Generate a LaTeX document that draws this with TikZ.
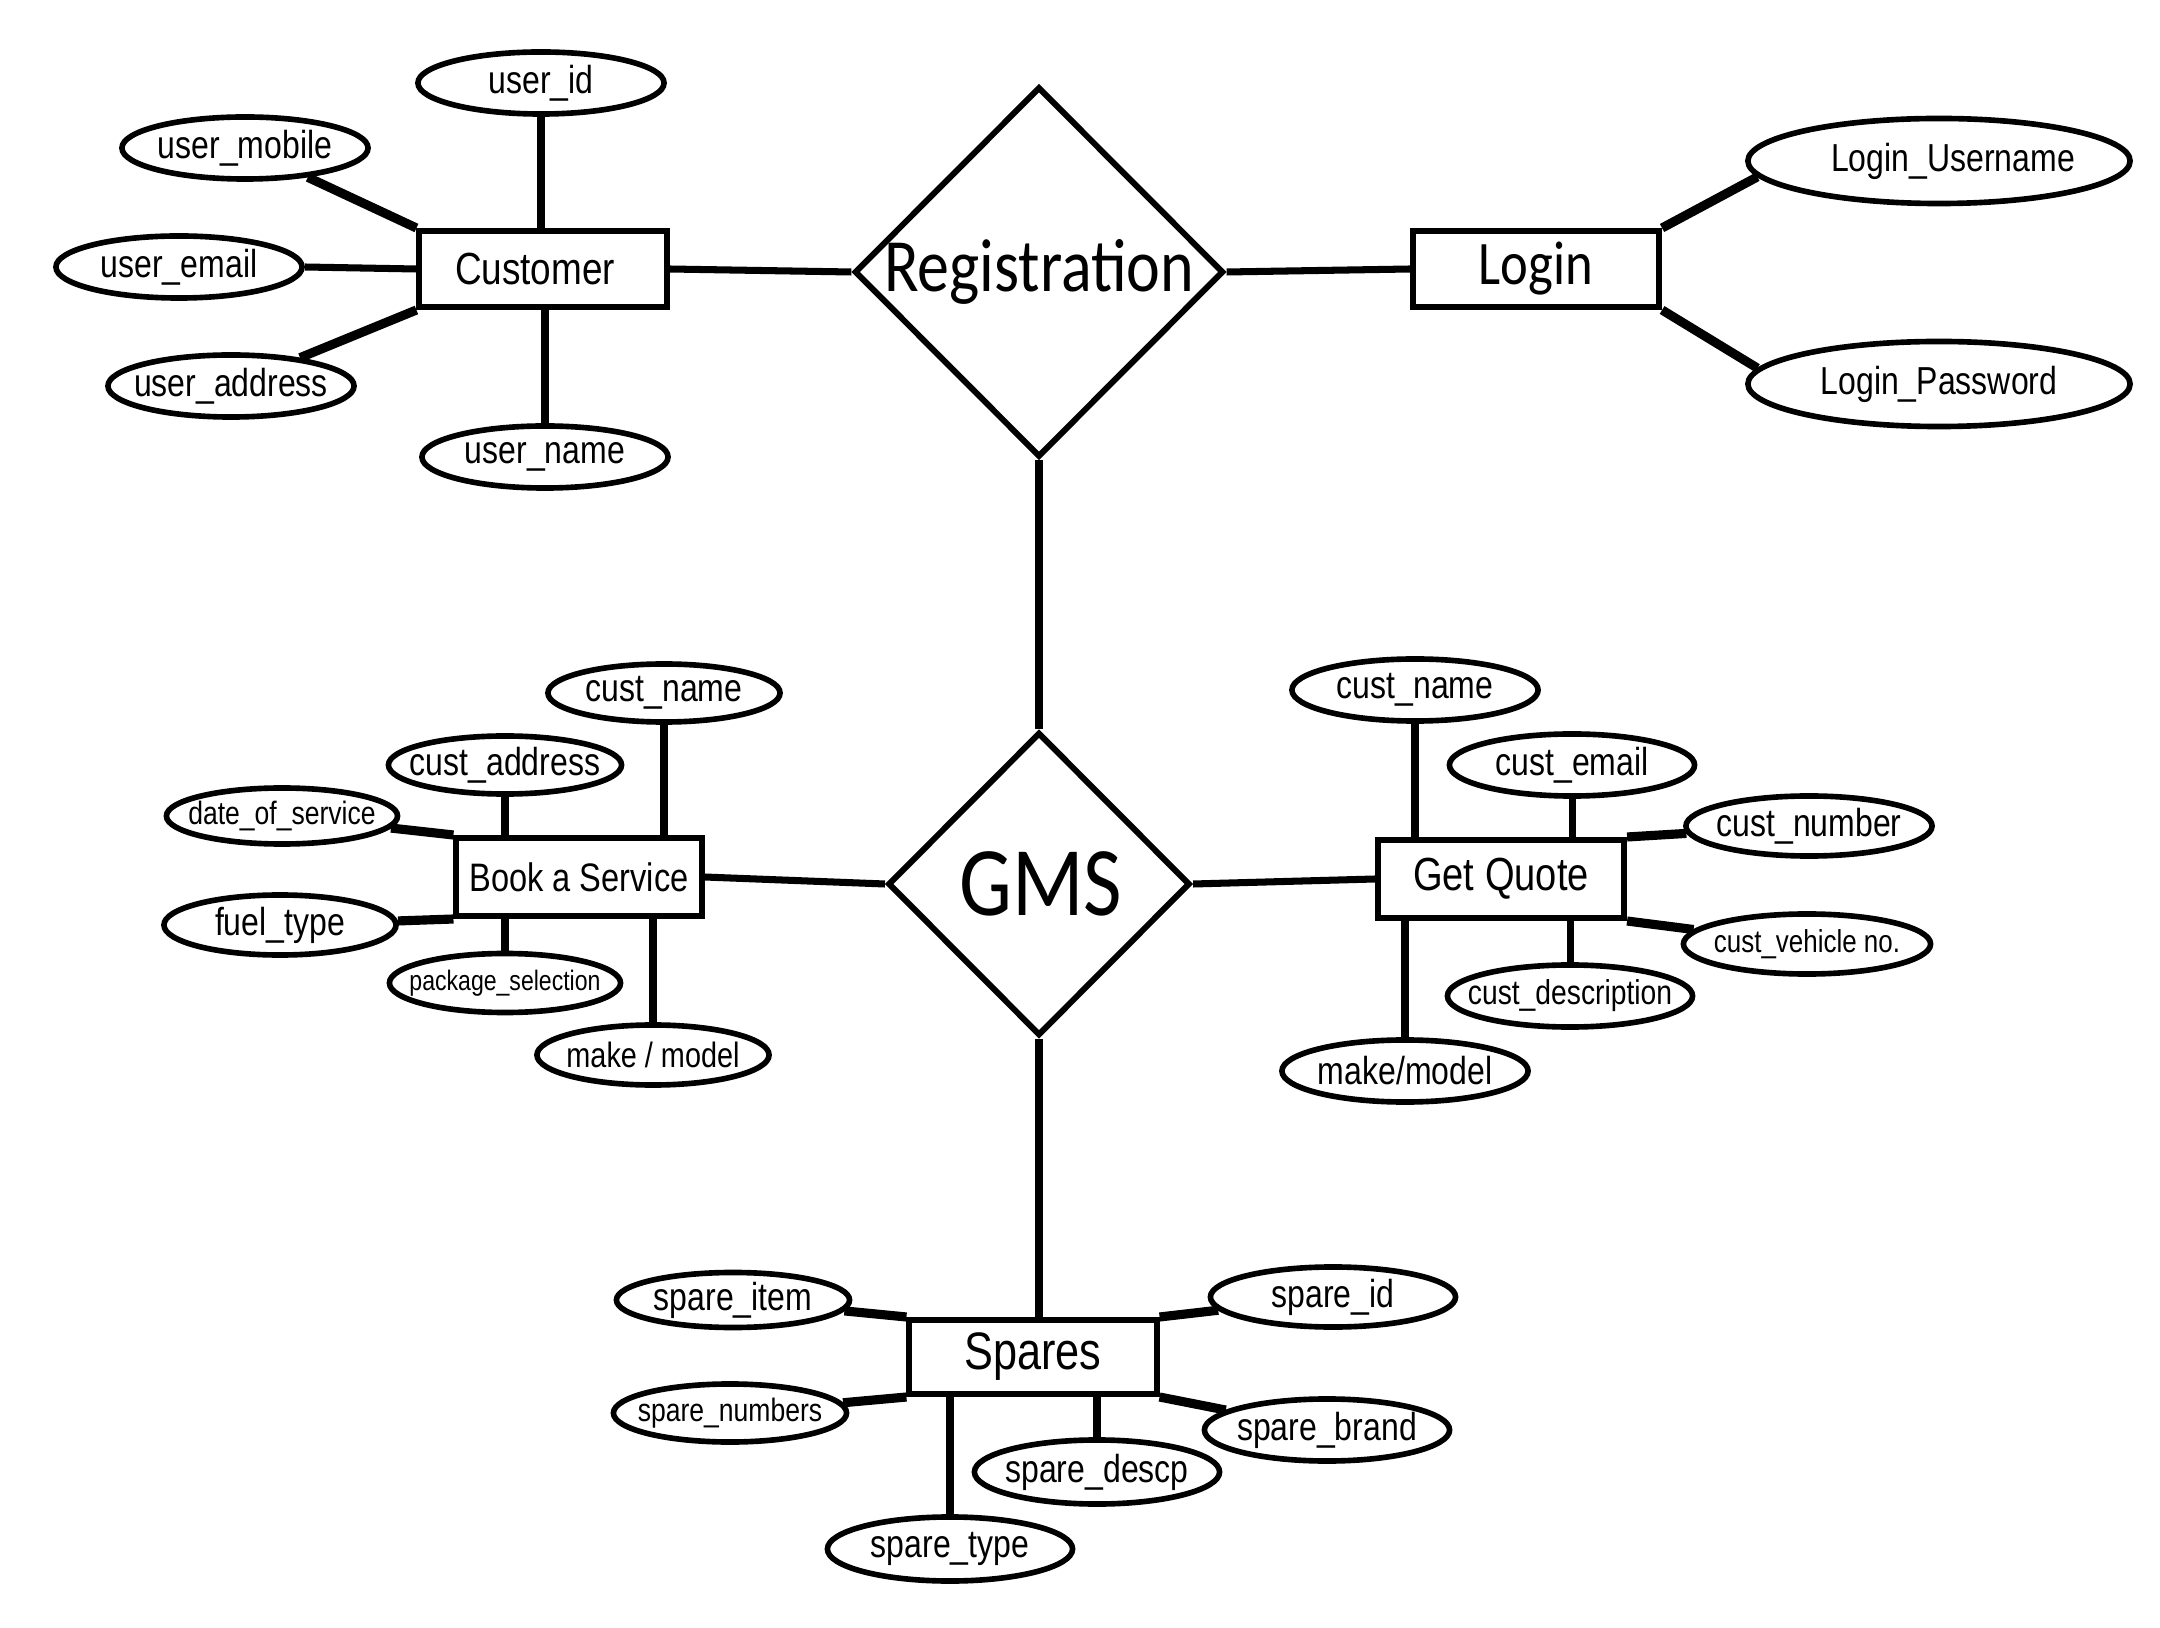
\documentclass[tikz,border=0pt]{standalone}
\usepackage{fontspec}
\usetikzlibrary{shapes.geometric}
\newfontfamily\attrfont{Liberation Sans}[FakeStretch=0.82]
\newfontfamily\calfont{Carlito}[FakeStretch=0.85]
\newcommand{\fsz}[1]{\fontsize{#1}{#1}\selectfont}
\newcommand{\zw}[1]{\makebox[0pt]{#1}}
\tikzset{
  attr/.style={ellipse, draw, line width=1.6pt, inner sep=0pt,
    minimum width=2.46cm, minimum height=0.62cm, font=\attrfont\fsz{11.1pt}},
  entity/.style={rectangle, draw, line width=1.7pt, inner sep=0pt,
    minimum width=2.47cm, minimum height=0.76cm, font=\attrfont\fsz{12.8pt}},
  rel/.style={diamond, draw, line width=1.7pt, inner sep=0pt},
  reltext/.style={inner sep=0pt, font=\calfont},
  link/.style={line width=2pt},
  dlink/.style={line width=2.6pt}
}
\begin{document}
\begin{tikzpicture}[x=0.01cm, y=-0.01cm]
\fill[white] (0,0) rectangle (2160,1628);
\useasboundingbox (0,0) rectangle (2160,1628);

% Relationships
\node[rel, minimum width=3.69cm, minimum height=3.70cm] (reg) at (1039,272) {};
\node[reltext, font=\calfont\fsz{21.4pt}] (regtxt) at (1039,272) {Registration};
\node[rel, minimum width=3.02cm, minimum height=3.03cm] (gms) at (1039,884) {};
\node[reltext, font=\calfont\fsz{28pt}] (gmstxt) at (1041,884) {GMS};

% Customer
\node[entity] (cust) at (543,269) {\zw{\hspace{-0.16cm}Customer}};
\node[attr] (uid) at (541,83) {\zw{user\_id}};
\node[attr] (umob) at (245,148) {\zw{user\_mobile}};
\node[attr] (uemail) at (179,267) {\zw{user\_email}};
\node[attr] (uaddr) at (231,386) {\zw{user\_address}};
\node[attr] (uname) at (545,457) {\zw{user\_name}};

% Login
\node[entity, minimum width=2.46cm, font=\calfont\fsz{17.6pt}] (login) at (1536,269) {Login};
\node[attr, minimum width=3.82cm, minimum height=0.85cm] (lu) at (1939,161) {\zw{\hspace{0.28cm}Login\_Username}};
\node[attr, minimum width=3.82cm, minimum height=0.85cm] (lp) at (1939,384) {\zw{Login\_Password}};

% Book a Service
\node[entity, minimum width=2.45cm, minimum height=0.78cm, font=\attrfont\fsz{11.3pt}] (book) at (579,877) {Book a Service};
\node[attr, minimum width=2.32cm, minimum height=0.58cm] (bname) at (664,693) {\zw{cust\_name}};
\node[attr, minimum width=2.33cm, minimum height=0.58cm] (baddr) at (505,765) {\zw{cust\_address}};
\node[attr, minimum width=2.31cm, minimum height=0.56cm, font=\attrfont\fsz{9.2pt}] (bdate) at (282,816) {\zw{date\_of\_service}};
\node[attr, minimum width=2.32cm, minimum height=0.60cm] (bfuel) at (280,925) {\zw{fuel\_type}};
\node[attr, minimum width=2.31cm, minimum height=0.59cm, font=\attrfont\fsz{8pt}] (bpack) at (505,983) {\zw{package\_selection}};
\node[attr, minimum width=2.32cm, minimum height=0.60cm, font=\attrfont\fsz{10pt}] (bmake) at (653,1055) {\zw{make / model}};

% Get Quote
\node[entity, minimum width=2.46cm, minimum height=0.78cm, font=\attrfont\fsz{13.2pt}] (gq) at (1501,879) {Get Quote};
\node[attr] (qname) at (1415,690) {\zw{cust\_name}};
\node[attr, minimum width=2.45cm] (qemail) at (1572,765) {\zw{cust\_email}};
\node[attr, minimum height=0.60cm] (qnum) at (1809,826) {\zw{cust\_number}};
\node[attr, minimum width=2.47cm, minimum height=0.60cm, font=\attrfont\fsz{9pt}] (qveh) at (1807,944) {\zw{cust\_vehicle no.}};
\node[attr, minimum width=2.45cm, font=\attrfont\fsz{9.8pt}] (qdesc) at (1570,996) {\zw{cust\_description}};
\node[attr] (qmake) at (1405,1071) {\zw{make/model}};

% Spares
\node[entity, minimum width=2.47cm, minimum height=0.74cm, font=\attrfont\fsz{15pt}] (spares) at (1033,1357) {Spares};
\node[attr, minimum width=2.33cm, minimum height=0.55cm] (si) at (733,1300) {\zw{spare\_item}};
\node[attr, minimum width=2.45cm, minimum height=0.60cm] (sid) at (1333,1297) {\zw{spare\_id}};
\node[attr, minimum width=2.33cm, minimum height=0.58cm, font=\attrfont\fsz{9.2pt}] (sn) at (730,1413) {\zw{spare\_numbers}};
\node[attr, minimum width=2.45cm, minimum height=0.62cm] (sb) at (1327,1430) {\zw{spare\_brand}};
\node[attr, minimum width=2.45cm, minimum height=0.64cm] (sd) at (1097,1472) {\zw{spare\_descp}};
\node[attr, minimum width=2.45cm, minimum height=0.64cm] (st) at (950,1549) {\zw{spare\_type}};

% Main connectors
\draw[link] (cust.east) -- (reg.west);
\draw[link] (reg.east) -- (login.west);
\draw[link] (reg.south) -- (gms.north);
\draw[link] (book.east) -- (gms.west);
\draw[link] (gms.east) -- (gq.west);
\draw[link] (gms.south) -- (gms.south |- spares.north);

% Customer attributes
\draw[link] (uid.south) -- (uid.south |- cust.north);
\draw[dlink] (umob) -- (cust.north west);
\draw[link] (uemail.east) -- (cust.west);
\draw[dlink] (uaddr) -- (cust.south west);
\draw[link] (uname.north) -- (uname.north |- cust.south);

% Login attributes
\draw[dlink] (login.north east) -- (lu.185);
\draw[dlink] (login.south east) -- (lp.175);

% Book a Service attributes
\draw[link] (bname.south) -- (bname.south |- book.north);
\draw[link] (baddr.south) -- (baddr.south |- book.north);
\draw[dlink] (bdate) -- (book.north west);
\draw[dlink] (bfuel) -- (book.south west);
\draw[link] (bpack.north) -- (bpack.north |- book.south);
\draw[link] (bmake.north) -- (bmake.north |- book.south);

% Get Quote attributes
\draw[link] (qname.south) -- (qname.south |- gq.north);
\draw[link] (qemail.south) -- (qemail.south |- gq.north);
\draw[dlink] (gq.north east) -- (qnum);
\draw[dlink] (gq.south east) -- (qveh);
\draw[link] (qdesc.north) -- (qdesc.north |- gq.south);
\draw[link] (qmake.north) -- (qmake.north |- gq.south);

% Spares attributes
\draw[dlink] (si) -- (spares.north west);
\draw[dlink] (sid) -- (spares.north east);
\draw[dlink] (sn) -- (spares.south west);
\draw[dlink] (sb) -- (spares.south east);
\draw[link] (sd.north) -- (sd.north |- spares.south);
\draw[link] (st.north) -- (st.north |- spares.south);
\end{tikzpicture}
\end{document}
